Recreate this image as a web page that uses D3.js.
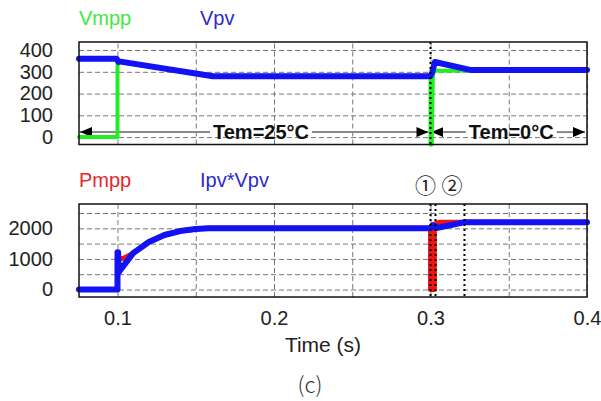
<!DOCTYPE html>
<html>
<head>
<meta charset="utf-8">
<script src="https://cdn.jsdelivr.net/npm/d3@7"></script>
<style>
  body { margin: 0; background: #fff; }
  svg { font-family: "Liberation Sans", Arial, sans-serif; }
  .tick text { fill: #222; font-size: 20px; }
  .grid line { stroke: #777; stroke-dasharray: 5,3; stroke-width: 1; }
  .grid .domain { display: none; }
</style>
</head>
<body>
<div id="chart"></div>
<script>
// x axis ticks (time, s)
const timeTicks = [0.1, 0.2, 0.3, 0.4];
const timeGrid = [0.1, 0.15, 0.2, 0.25, 0.3, 0.35, 0.4];

// top panel: voltages
const voltTicks = [0, 100, 200, 300, 400];
const vmppTime  = [0.0754, 0.1, 0.1, 0.101, 0.161, 0.3, 0.3, 0.3008, 0.3015, 0.303, 0.325, 0.4];
const vmppValue = [0, 0, 330, 345, 280, 280, -34, -34, 290, 305, 306, 308];
const vpvTime   = [0.0754, 0.0995, 0.1005, 0.101, 0.161, 0.3, 0.3012, 0.3028, 0.326, 0.4];
const vpvValue  = [360, 360, 345, 348, 280, 280, 300, 345, 308, 308];

// bottom panel: powers
const powTicks  = [0, 1000, 2000];
const powGrid   = [0, 500, 1000, 1500, 2000, 2500];
const pmppTime  = [0.0754, 0.1, 0.1, 0.104, 0.11, 0.12, 0.13, 0.14, 0.15, 0.158, 0.3, 0.3, 0.3025, 0.3025, 0.3032, 0.306, 0.4];
const pmppValue = [0, 0, 1000, 1020, 1190, 1550, 1780, 1910, 1980, 2000, 2000, 0, 0, 2100, 2150, 2200, 2200];
const ipvTime   = [0.0754, 0.1, 0.1, 0.1004, 0.1008, 0.102, 0.11, 0.12, 0.13, 0.14, 0.15, 0.158, 0.3, 0.3012, 0.3025, 0.3038, 0.3222, 0.4];
const ipvValue  = [0, 0, 1220, 1220, 560, 650, 1190, 1550, 1780, 1910, 1980, 2000, 2000, 2100, 2080, 2010, 2200, 2200];

// events
const tempBounds = [0.0754, 0.3, 0.4];
const tempLabels = ["Tem=25°C", "Tem=0°C"];
const topMarkers = [0.3];
const botMarkers = [0.3, 0.3032, 0.3217];
const markerLabels = ["①", "②"];

const width = 601, height = 401;
const plotL = 79, plotR = 587;
const topPanel = {top: 42, bottom: 144.5};
const botPanel = {top: 204, bottom: 297};

const svg = d3.select("#chart").append("svg")
    .attr("width", width).attr("height", height);

const defs = svg.append("defs");
defs.append("marker")
    .attr("id", "arrow")
    .attr("viewBox", "0 0 12 10")
    .attr("refX", 12).attr("refY", 5)
    .attr("markerWidth", 12).attr("markerHeight", 10)
    .attr("markerUnits", "userSpaceOnUse")
    .attr("orient", "auto-start-reverse")
  .append("path")
    .attr("d", "M0,0 L12,5 L0,10 Z")
    .attr("fill", "#000");

const x = d3.scaleLinear().domain([0.0754, 0.4]).range([plotL, plotR]);
const yV = d3.scaleLinear().domain([-34, 437]).range([topPanel.bottom, topPanel.top]);
const yP = d3.scaleLinear().domain([-245, 2794]).range([botPanel.bottom, botPanel.top]);

function panel(y, p, ticks, grid) {
  const g = svg.append("g");
  // grid
  g.append("g").attr("class", "grid")
      .attr("transform", `translate(0,${p.bottom})`)
      .call(d3.axisBottom(x).tickValues(timeGrid).tickSize(-(p.bottom - p.top)).tickFormat(""));
  g.append("g").attr("class", "grid")
      .attr("transform", `translate(${plotL},0)`)
      .call(d3.axisLeft(y).tickValues(grid).tickSize(-(plotR - plotL)).tickFormat(""));
  // y labels
  const ax = g.append("g")
      .attr("transform", `translate(${plotL},0)`)
      .call(d3.axisLeft(y).tickValues(ticks).tickSize(0).tickPadding(26).tickFormat(d3.format("d")));
  ax.select(".domain").remove();
  ax.selectAll("text").attr("font-family", "Liberation Sans, Arial, sans-serif");
  return g;
}

function series(y, ts, vs, colour, w) {
  const line = d3.line().x(d => x(d[0])).y(d => y(d[1]));
  svg.append("path")
      .datum(d3.zip(ts, vs))
      .attr("d", line)
      .attr("fill", "none")
      .attr("stroke", colour)
      .attr("stroke-width", w)
      .attr("stroke-linejoin", "round")
      .attr("stroke-linecap", "round");
}

function frame(p) {
  svg.append("rect")
      .attr("x", plotL).attr("y", p.top)
      .attr("width", plotR - plotL).attr("height", p.bottom - p.top)
      .attr("fill", "none").attr("stroke", "#111").attr("stroke-width", 1.5);
}

function markers(list, p) {
  svg.selectAll(null).data(list).enter().append("line")
      .attr("x1", d => x(d)).attr("x2", d => x(d))
      .attr("y1", p.top).attr("y2", p.bottom)
      .attr("stroke", "#000").attr("stroke-width", 2)
      .attr("stroke-dasharray", "2,3");
}

// ---------- top panel ----------
panel(yV, topPanel, voltTicks, voltTicks);

// temperature annotation
const arrowY = yV(23);
tempLabels.forEach((lab, i) => {
  const a = x(tempBounds[i]) + 1, b = x(tempBounds[i + 1]) - 2;
  const mid = i === 0 ? x(0.1917) : (a + b) / 2 + 3;
  const t = svg.append("text")
      .attr("x", mid).attr("y", arrowY + 7)
      .attr("text-anchor", "middle")
      .attr("font-size", 20).attr("font-weight", "bold")
      .attr("fill", "#111")
      .text(lab);
  const half = t.node().getComputedTextLength() / 2 + 3;
  svg.append("line")
      .attr("x1", mid - half).attr("x2", a).attr("y1", arrowY).attr("y2", arrowY)
      .attr("stroke", "#888").attr("stroke-width", 2)
      .attr("marker-end", "url(#arrow)");
  svg.append("line")
      .attr("x1", mid + half).attr("x2", b).attr("y1", arrowY).attr("y2", arrowY)
      .attr("stroke", "#888").attr("stroke-width", 2)
      .attr("marker-end", "url(#arrow)");
});

series(yV, vmppTime, vmppValue, "#22ee22", 4);
series(yV, vpvTime, vpvValue, "#1212f5", 6);
markers(topMarkers, topPanel);
frame(topPanel);

// ---------- bottom panel ----------
panel(yP, botPanel, powTicks, powGrid);
series(yP, pmppTime, pmppValue, "#ee1414", 5);
series(yP, ipvTime, ipvValue, "#1212f5", 6);
markers(botMarkers, botPanel);
frame(botPanel);

// x labels
const xa = svg.append("g")
    .attr("transform", `translate(0,${botPanel.bottom})`)
    .call(d3.axisBottom(x).tickValues(timeTicks).tickSize(0).tickPadding(14).tickFormat(d3.format(".1f")));
xa.select(".domain").remove();

svg.append("text")
    .attr("x", 323).attr("y", 352)
    .attr("text-anchor", "middle")
    .attr("font-size", 21).attr("fill", "#222")
    .text("Time (s)");

svg.append("text")
    .attr("x", 310).attr("y", 393)
    .attr("text-anchor", "middle")
    .attr("font-family", "Noto Sans CJK KR, sans-serif")
    .attr("font-size", 22).attr("font-weight", 300).attr("fill", "#333")
    .text("(c)");

// circled markers
markerLabels.forEach((lab, i) => {
  svg.append("text")
      .attr("x", i === 0 ? x(botMarkers[0]) - 5 : (x(botMarkers[1]) + x(botMarkers[2])) / 2 + 2)
      .attr("y", 193)
      .attr("text-anchor", "middle")
      .attr("font-family", "Noto Sans CJK KR, sans-serif")
      .attr("font-size", 21).attr("fill", "#222")
      .text(lab);
});

// legends
const legends = [
  {label: "Vmpp", colour: "#3ee83e", x: 79, y: 25},
  {label: "Vpv", colour: "#2b2bd0", x: 200, y: 25},
  {label: "Pmpp", colour: "#e8262b", x: 79, y: 187},
  {label: "Ipv*Vpv", colour: "#2b2bd0", x: 200, y: 187}
];
svg.selectAll("text.legend")
    .data(legends)
    .enter().append("text")
    .attr("class", "legend")
    .attr("x", d => d.x).attr("y", d => d.y)
    .attr("font-size", 20)
    .attr("fill", d => d.colour)
    .text(d => d.label);
</script>
</body>
</html>
